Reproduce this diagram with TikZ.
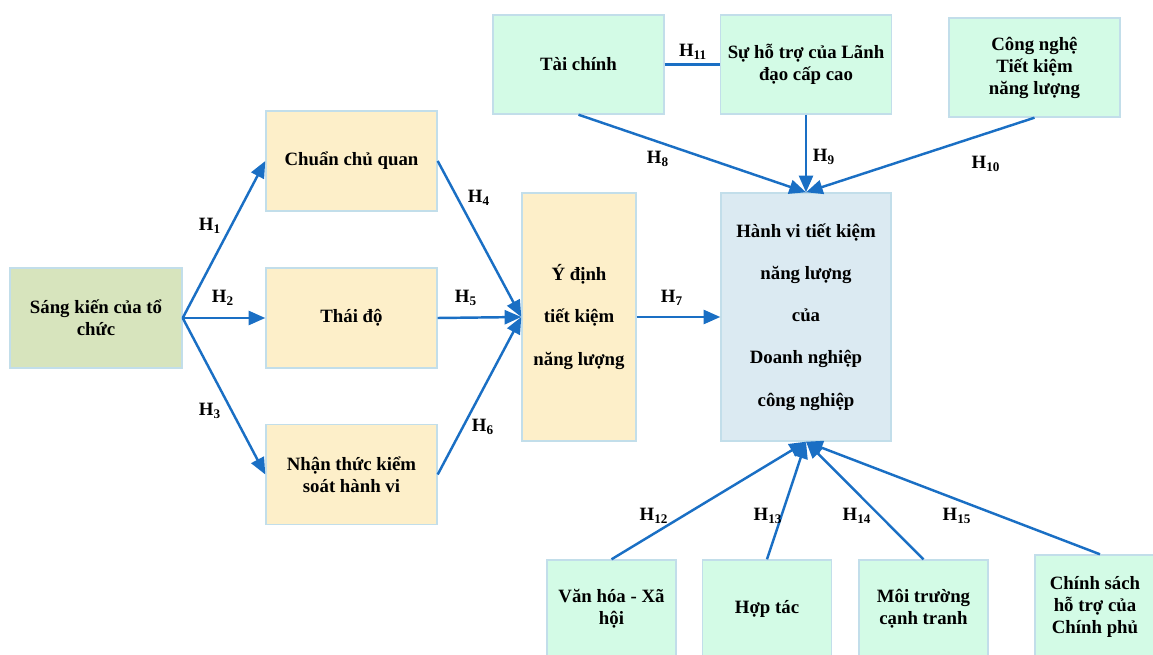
\documentclass[tikz,border=0pt]{standalone}
\usepackage{fontspec}
\setmainfont{Liberation Serif}
\usetikzlibrary{arrows.meta}
\definecolor{arrowblue}{HTML}{1A6FC4}
\definecolor{boxborder}{HTML}{C2DEEA}
\definecolor{greenfill}{HTML}{D7E4BD}
\definecolor{peachfill}{HTML}{FDEFC9}
\definecolor{bluefill}{HTML}{DBEAF2}
\definecolor{mintfill}{HTML}{D3FBE6}
\tikzset{
  box/.style={draw=boxborder, line width=0.8pt, align=center, font=\bfseries\fontsize{10.7}{12.5}\selectfont, inner sep=0pt},
  greenbox/.style={box, fill=greenfill, minimum width=172*0.02cm, minimum height=100*0.02cm},
  peachbox/.style={box, fill=peachfill, minimum width=171*0.02cm, minimum height=100*0.02cm},
  mintbox/.style={box, fill=mintfill, minimum width=171*0.02cm, minimum height=99*0.02cm},
  mintsmall/.style={box, fill=mintfill, minimum width=129*0.02cm, minimum height=98*0.02cm},
  arr/.style={draw=arrowblue, line width=1.4pt, -{Triangle[length=9.5pt,width=8pt]}},
  plain/.style={draw=arrowblue, line width=1.4pt},
  hlab/.style={font=\bfseries\fontsize{10.7}{12}\selectfont, inner sep=0pt}
}
\newcommand{\hl}[1]{H\textsubscript{#1}}
\begin{document}
\begin{tikzpicture}[x=0.02cm,y=-0.02cm]
\useasboundingbox (0,0) rectangle (1153,655);
\clip (0,0) rectangle (1153,655);
% nodes
\node[greenbox] (sk) at (96,318) {Sáng kiến của tổ\\chức};
\node[peachbox] (cc) at (351.5,161) {Chuẩn chủ quan};
\node[peachbox] (td) at (351.5,318) {Thái độ};
\node[peachbox] (nt) at (351.5,474.5) {Nhận thức kiểm\\soát hành vi};
\node[box, fill=peachfill, minimum width=114*0.02cm, minimum height=248*0.02cm,
      font=\bfseries\fontsize{10.7}{24}\selectfont] (yd) at (579,317) {Ý định\\tiết kiệm\\năng lượng};
\node[box, fill=bluefill, minimum width=170*0.02cm, minimum height=248*0.02cm,
      font=\bfseries\fontsize{10.7}{24}\selectfont] (hv) at (806,317) {Hành vi tiết kiệm\\năng lượng\\của\\Doanh nghiệp\\công nghiệp};
\node[mintbox] (tc) at (578.5,64.5) {Tài chính};
\node[mintbox] (ld) at (806,64.5) {Sự hỗ trợ của Lãnh\\đạo cấp cao};
\node[mintbox] (cn) at (1034.5,67.5) {Công nghệ\\Tiết kiệm\\năng lượng};
\node[mintsmall] (vh) at (611.5,609) {Văn hóa - Xã\\hội};
\node[mintsmall] (ht) at (767,609) {Hợp tác};
\node[mintsmall] (mt) at (923.5,609) {Môi trường\\cạnh tranh};
\node[box, fill=mintfill, minimum width=120*0.02cm, minimum height=104*0.02cm] (cs) at (1095,607) {Chính sách\\hỗ trợ của\\Chính phủ};
% connectors
\draw[arr] (sk.east) -- (cc.west);
\draw[arr] (sk.east) -- (td.west);
\draw[arr] (sk.east) -- (nt.west);
\draw[arr] (cc.east) -- (yd.west);
\draw[arr] (td.east) -- (yd.west);
\draw[arr] (nt.east) -- (yd.west);
\draw[arr] (yd.east) -- (hv.west);
\draw[plain] (tc.east) -- (ld.west);
\draw[arr] (tc.south) -- (hv.north);
\draw[arr] (ld.south) -- (hv.north);
\draw[arr] (cn.south) -- (hv.north);
\draw[arr] (vh.north) -- (hv.south);
\draw[arr] (ht.north) -- (hv.south);
\draw[arr] (mt.north) -- (hv.south);
\draw[arr] ([xshift=5*0.02cm]cs.north) -- (hv.south);
% labels
\node[hlab] (h1) at (210,226) {\hl{1}};
\node[hlab] (h2) at (223,298) {\hl{2}};
\node[hlab] (h3) at (210,411) {\hl{3}};
\node[hlab] (h4) at (479,198) {\hl{4}};
\node[hlab] (h5) at (466,298) {\hl{5}};
\node[hlab] (h6) at (483,427) {\hl{6}};
\node[hlab] (h7) at (672,298) {\hl{7}};
\node[hlab] (h8) at (658,159) {\hl{8}};
\node[hlab] (h9) at (824,157) {\hl{9}};
\node[hlab] (h10) at (986,164) {\hl{10}};
\node[hlab] (h11) at (693,52) {\hl{11}};
\node[hlab] (h12) at (654,516) {\hl{12}};
\node[hlab] (h13) at (768,516) {\hl{13}};
\node[hlab] (h14) at (857,516) {\hl{14}};
\node[hlab] (h15) at (957,516) {\hl{15}};
\end{tikzpicture}
\end{document}
